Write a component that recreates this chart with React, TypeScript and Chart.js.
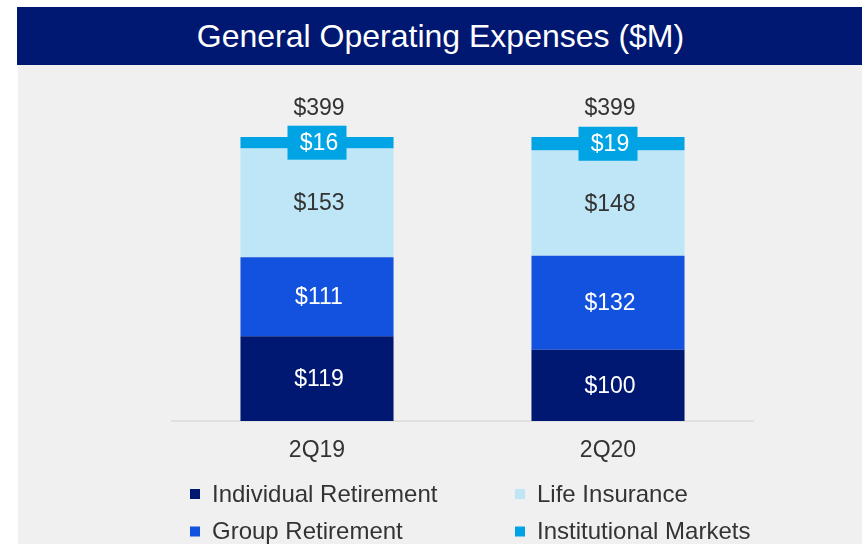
import React, { useEffect, useRef } from "react";
import { Chart, registerables } from "chart.js";

Chart.register(...registerables);

const TITLE = "General Operating Expenses ($M)";
const categories = ["2Q19", "2Q20"];
const seriesNames = ["Individual Retirement", "Group Retirement", "Life Insurance", "Institutional Markets"];
const individualRetirement = [119, 100];
const groupRetirement = [111, 132];
const lifeInsurance = [153, 148];
const institutionalMarkets = [16, 19];
const totals = [399, 399];

const NAVY = "#001871";
const BLUE = "#1352de";
const LIGHT = "#bee6f7";
const CYAN = "#00a4e4";
const TEXT = "#333333";
const FONT = "'Liberation Sans', Arial, sans-serif";

const labelPlugin = {
  id: "segLabels",
  afterDatasetsDraw(chart: any) {
    const ctx = chart.ctx;
    ctx.save();
    ctx.textAlign = "center";
    ctx.textBaseline = "middle";
    ctx.font = `23px ${FONT}`;
    chart.data.datasets.forEach((ds: any, di: number) => {
      const meta = chart.getDatasetMeta(di);
      meta.data.forEach((el: any, i: number) => {
        const v = ds.data[i];
        const cx = el.x;
        const cy = (el.y + el.base) / 2;
        const txt = "$" + v;
        if (di === 3) {
          ctx.fillStyle = CYAN;
          ctx.fillRect(cx - 29.5, cy - 17, 59, 34);
          ctx.fillStyle = "#ffffff";
        } else if (di === 2) {
          ctx.fillStyle = TEXT;
        } else {
          ctx.fillStyle = "#ffffff";
        }
        ctx.fillText(txt, cx + 2, cy + 1);
      });
    });
    const lastMeta = chart.getDatasetMeta(chart.data.datasets.length - 1);
    lastMeta.data.forEach((el: any, i: number) => {
      ctx.fillStyle = TEXT;
      ctx.fillText("$" + totals[i], el.x + 2, el.y - 28);
    });
    ctx.restore();
  },
};

const legendPlugin = {
  id: "gridLegend",
  afterDraw(chart: any) {
    const ctx = chart.ctx;
    const order = [0, 2, 1, 3];
    const cols = [172, 497];
    const rows = [429, 466.5];
    ctx.save();
    ctx.font = `24px ${FONT}`;
    ctx.textAlign = "left";
    ctx.textBaseline = "middle";
    order.forEach((di, k) => {
      const col = k % 2;
      const row = Math.floor(k / 2);
      const ds = chart.data.datasets[di];
      const x = cols[col];
      const y = rows[row];
      ctx.fillStyle = ds.backgroundColor;
      ctx.fillRect(x, y - 5, 10, 10);
      ctx.fillStyle = TEXT;
      ctx.fillText(ds.label, x + 22, y + 1);
    });
    ctx.restore();
  },
};

function App() {
  const ref = useRef<HTMLCanvasElement>(null);
  useEffect(() => {
    if (!ref.current) return;
    const chart = new Chart(ref.current, {
      type: "bar",
      data: {
        labels: categories,
        datasets: [
          { label: seriesNames[0], data: individualRetirement, backgroundColor: NAVY },
          { label: seriesNames[1], data: groupRetirement, backgroundColor: BLUE },
          { label: seriesNames[2], data: lifeInsurance, backgroundColor: LIGHT },
          { label: seriesNames[3], data: institutionalMarkets, backgroundColor: CYAN },
        ],
      },
      options: {
        responsive: false,
        animation: false,
        devicePixelRatio: 1,
        layout: { padding: { left: 153.5, right: 108.5, top: 72, bottom: 71.4 } },
        datasets: { bar: { barPercentage: 0.526, categoryPercentage: 1 } },
        plugins: { legend: { display: false }, tooltip: { enabled: false }, title: { display: false } },
        scales: {
          x: {
            stacked: true,
            grid: { display: false },
            border: { display: true, color: "#e0e0e0", width: 2 },
            ticks: { color: TEXT, font: { family: FONT, size: 23 }, padding: 8 },
          },
          y: { stacked: true, display: false, min: 0, max: 399 },
        },
      },
      plugins: [labelPlugin, legendPlugin],
    });
    return () => chart.destroy();
  }, []);

  return (
    <div style={{ position: "absolute", left: 0, top: 0, width: 862, height: 544, background: "#ffffff", overflow: "hidden" }}>
      <div
        style={{
          position: "absolute",
          left: 17,
          top: 7,
          width: 845,
          height: 58,
          background: NAVY,
          color: "#ffffff",
          fontFamily: FONT,
          fontSize: 32,
          lineHeight: "58px",
          textAlign: "center",
          paddingLeft: 1,
        }}
      >
        {TITLE}
      </div>
      <div style={{ position: "absolute", left: 18, top: 65, width: 844, height: 479, background: "#f0f0f0" }}>
        <canvas ref={ref} width={844} height={479} style={{ display: "block", width: 844, height: 479 }} />
      </div>
    </div>
  );
}

export default App;
